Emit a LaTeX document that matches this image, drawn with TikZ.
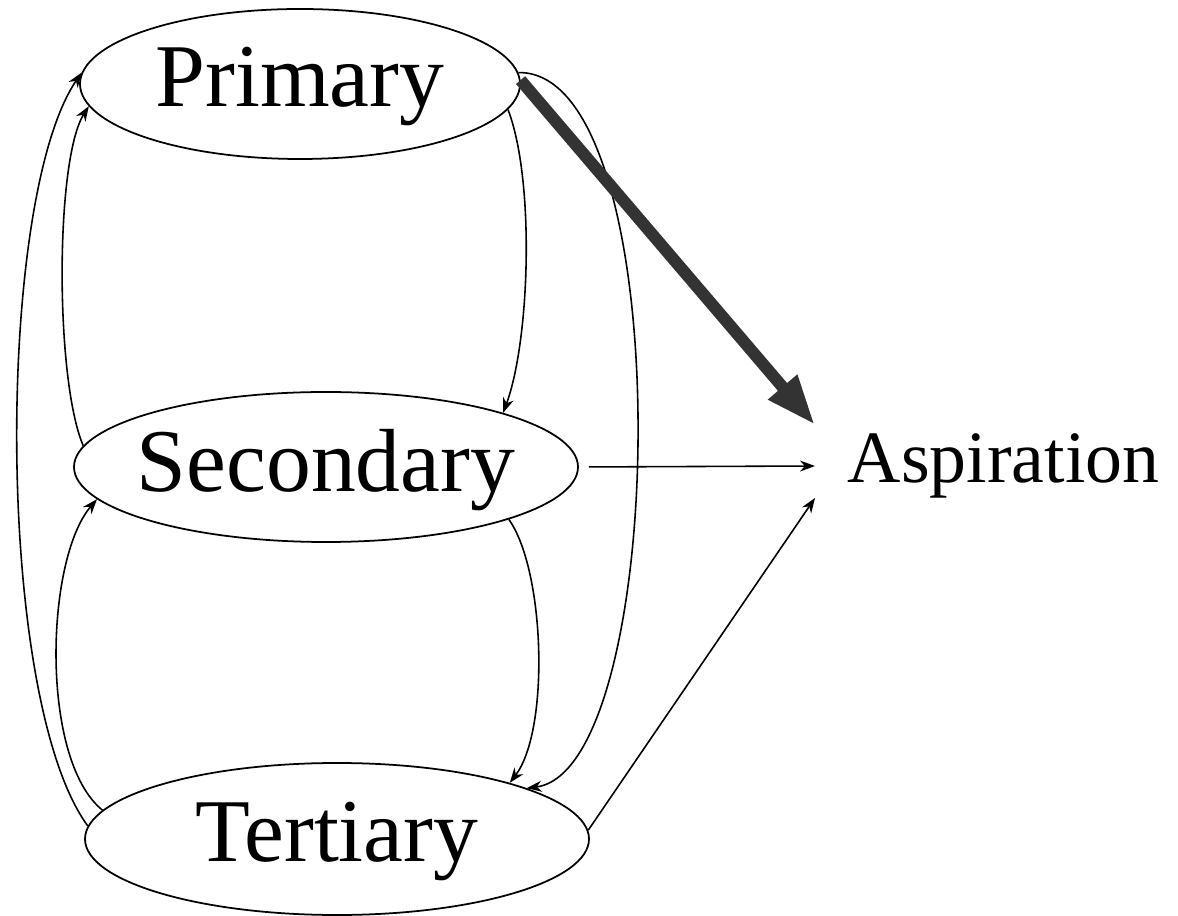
\documentclass[tikz,border=0pt]{standalone}
\usepackage{fontspec}
\setmainfont{Liberation Serif}
\usetikzlibrary{shapes.geometric, arrows.meta}

\newcommand{\stagefont}{\fontsize{51}{60}\selectfont}
\newcommand{\aimfont}{\fontsize{42}{48}\selectfont}

\begin{document}
\begin{tikzpicture}[line width=1pt,
  stage/.style={draw, ellipse, inner sep=0pt, minimum height=3cm},
  link/.style={line width=0.9pt, -{Stealth[length=0.3cm, width=0.22cm]}},
  boldlink/.style={line width=0.24cm, black!80, -{Triangle[length=1cm, width=0.7cm]}}]
  \useasboundingbox (0,0) rectangle (23.56,18.3);
  % the three stages
  \node[stage, minimum width=8.8cm, label={[font=\stagefont, yshift=-0.06cm]center:Primary}] (prim) at (6.0,16.62) {};
  \node[stage, minimum width=10.08cm, label={[font=\stagefont, yshift=-0.06cm]center:Secondary}] (sec) at (6.52,8.96) {};
  \node[stage, minimum width=10.08cm, minimum height=3.04cm, label={[font=\stagefont, yshift=-0.06cm]center:Tertiary}] (tert) at (6.74,1.52) {};
  % outcome
  \node[anchor=west, inner xsep=0.64cm, inner ysep=0pt, font=\aimfont] (asp) at (16.3,8.98) {Aspiration};
  % left side: links going up
  \draw[link] (tert.177) .. controls (-0.1,4.3) and (-0.1,14.3) .. (prim.177);
  \draw[link] (sec.175) .. controls (1.1,10.7) and (1.1,15.1) .. (prim.186);
  \draw[link] (tert.173) .. controls (0.8,3.1) and (0.9,7.1) .. (sec.188);
  % right side: links going down
  \draw[link] (prim.353) .. controls (10.7,14.7) and (10.6,11.5) .. (sec.17);
  \draw[link] (prim.3) .. controls (13.6,16.9) and (13.4,2.9) .. (tert.15);
  \draw[link] (sec.344) .. controls (10.9,6.9) and (11.0,3.7) .. (tert.18);
  % links to aspiration
  \draw[boldlink] (prim.1) -- ([yshift=0.82cm]asp.west);
  \draw[link, shorten <=0.2cm] (sec.east) -- (asp.west);
  \draw[link] (tert.2) -- ([yshift=-0.64cm]asp.west);
\end{tikzpicture}
\end{document}
